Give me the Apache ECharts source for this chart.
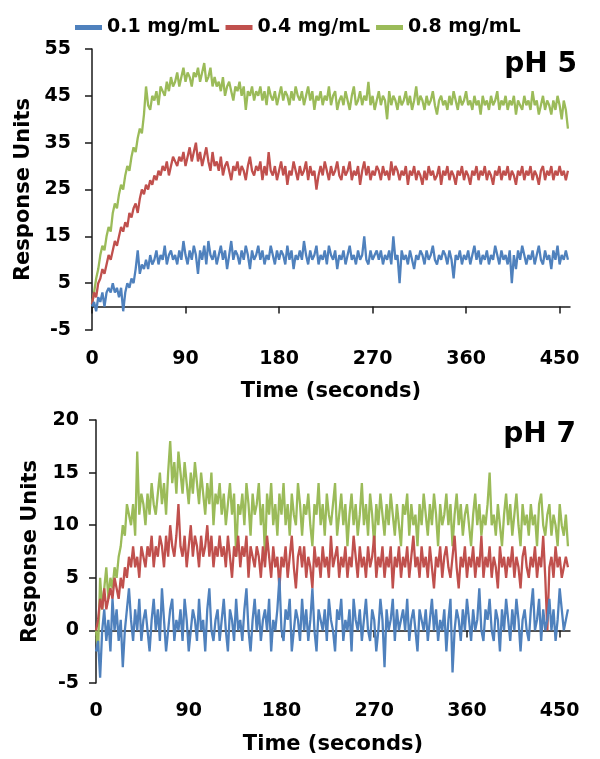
<!DOCTYPE html>
<html><head><meta charset="utf-8">
<script src="https://cdn.jsdelivr.net/npm/echarts@6/dist/echarts.min.js"></script>
<style>html,body{margin:0;padding:0;background:#fff}#c{width:600px;height:759px}</style>
</head><body><div id="c"></div>
<script>
const seriesNames = ['0.1 mg/mL', '0.4 mg/mL', '0.8 mg/mL'];
const seriesColors = ['#4F81BD', '#C0504D', '#9BBB59'];
const stepSeconds = 2;
const xTicks = [0, 90, 180, 270, 360, 450];
const panelLabels = ['pH 5', 'pH 7'];

// pH 5 panel (one value every 2 s, from t = 0)
const ph5_low = [
 0,1,-1,2,1,3,0,3,4,3, 5,3,4,2,4,-1,3,5,4,6, 5,8,12,7,9,8,10,8,11,9,
 10,12,9,11,10,13,9,11,12,10,
 11,9,12,10,14,11,9,12,10,13,
 11,7,12,10,13,9,14,11,10,12,
 9,11,13,10,12,8,11,14,10,12,
 11,9,12,10,13,11,8,12,10,11,
 13,10,12,9,11,10,13,11,9,12,
 10,12,11,9,13,10,12,8,11,10,
 12,10,14,11,9,12,10,11,13,9,
 11,10,12,9,13,11,10,12,8,11,
 10,12,9,11,13,10,11,9,12,10,
 11,15,10,9,12,10,11,12,10,12,
 9,11,10,12,9,15,10,11,5,12,
 10,11,9,12,10,8,11,10,12,11,
 9,12,10,11,13,10,9,11,10,12,
 11,9,12,10,6,11,10,12,9,11,
 10,12,9,11,13,10,12,9,11,10,
 12,9,11,10,13,11,9,12,10,11,
 9,12,5,11,8,12,10,13,11,9,
 11,10,12,9,11,13,10,9,12,10,
 11,8,12,10,13,9,11,10,12,10];
const ph5_mid = [
 0.5,3,2,5,6,8,7,9,11,10, 12,14,13,15,17,16,18,17,20,19, 21,22,20,23,25,24,26,25,27,26,
 28,27,29,28,30,29,31,28,30,32,
 31,30,32,31,33,30,32,34,31,33,
 35,31,33,30,32,34,31,29,33,30,
 31,29,32,28,30,31,29,27,30,29,
 31,28,30,29,27,30,32,29,28,30,
 29,31,27,30,28,33,29,28,30,27,
 29,31,28,30,26,29,28,31,29,27,
 30,28,29,31,27,30,28,29,25,28,
 30,28,31,29,27,30,28,29,31,28,
 27,30,28,29,31,27,29,28,30,26,
 29,31,28,30,27,29,28,30,29,27,
 30,28,29,27,31,28,30,29,27,29,
 28,30,26,29,28,30,27,29,28,26,
 29,27,30,28,29,27,28,30,26,29,
 28,30,27,29,28,26,29,28,30,27,
 29,28,26,29,28,30,27,29,28,30,
 27,29,28,26,29,28,30,27,29,28,
 30,27,29,28,26,29,28,30,27,29,
 28,30,27,29,28,26,29,30,27,29,
 28,30,27,29,28,30,28,29,27,29];
const ph5_high = [
 0.5,3,6,8,11,13,12,15,17,16, 20,22,21,24,26,25,28,30,29,32, 34,33,36,38,37,41,47,43,42,45,
 44,46,43,47,46,45,48,46,49,47,
 48,50,47,49,51,48,50,49,47,50,
 49,51,48,50,52,48,49,51,47,49,
 47,48,46,49,45,47,48,46,44,47,
 46,48,45,47,42,46,45,47,44,46,
 45,47,44,46,43,47,45,44,46,43,
 45,47,44,46,45,43,46,44,47,45,
 44,46,43,45,47,44,46,42,45,44,
 46,43,45,44,47,43,45,46,42,44,
 45,43,46,44,42,45,47,43,44,46,
 43,45,44,48,43,45,42,44,46,43,
 45,44,40,46,43,45,44,42,45,43,
 44,46,43,45,42,44,47,43,45,44,
 42,45,43,44,46,43,41,44,45,43,
 44,42,45,43,46,44,42,45,43,44,
 46,43,44,42,45,43,44,41,45,43,
 44,42,45,43,44,46,42,44,43,45,
 42,44,43,45,41,44,43,42,45,43,
 44,42,46,43,44,41,43,45,42,44,
 43,41,44,42,45,43,40,44,42,38];

// pH 7 panel (one value every 2 s, from t = 0)
const ph7_low = [
 -2,-1,-4.5,0,2,-1,1,-2,3,0, 2,-1,1,-3.5,0,2,4,1,-1,2, 0,3,-1,1,2,0,-2,1,3,0,
 2,-1,4,1,-2,0,2,3,-1,1,
 0,2,-1,3,1,-2,0,2,1,-1,
 3,0,1,-2,2,4,0,-1,1,2,
 -1,1,3,0,-2,2,1,-1,3,0,
 1,-1,2,4,0,-2,1,3,0,2,
 -1,1,2,0,3,-2,1,0,2,5,
 0,-1,2,1,3,-2,0,2,1,-1,
 3,0,2,-1,1,4,0,-2,2,1,
 0,2,-1,3,1,0,-2,2,1,3,
 -1,1,0,2,-2,3,1,0,2,-1,
 1,3,0,-1,2,1,-2,0,3,1,
 -3.5,2,0,1,3,-1,2,0,1,2,
 0,3,-1,1,2,0,-2,2,1,0,
 2,-1,1,3,0,2,-1,1,0,2,
 -2,1,3,-4,0,2,1,-1,2,0,
 3,1,-1,2,0,1,4,0,-1,2,
 1,3,0,-1,2,1,-2,2,0,3,
 1,-1,2,0,3,1,-2,1,2,0,
 -1,2,4,0,1,3,-1,2,0,1,
 3,0,2,-1,1,4,2,0,1,2];
const ph7_mid = [
 0,1,3,2,4,2,3,4,3,5, 4,3,5,4,6,5,7,6,8,6, 7,5,8,7,6,8,7,9,6,8,
 7,9,8,6,9,7,10,8,7,9,
 12,8,7,9,6,8,10,7,9,8,
 6,9,7,8,10,7,9,6,8,7,
 9,7,8,6,9,7,5,8,7,9,
 6,8,7,9,5,8,7,6,8,7,
 5,8,6,9,7,5,8,6,7,4,
 7,6,8,5,7,9,6,4,7,8,
 6,8,5,7,6,4,8,6,7,5,
 8,6,7,5,9,6,7,8,5,7,
 6,8,5,7,6,9,7,5,8,6,
 7,5,8,6,7,9,5,7,6,8,
 5,7,6,8,4,7,6,8,5,7,
 6,8,5,7,9,6,7,5,8,6,
 7,5,8,6,4,7,6,8,5,7,
 8,6,5,7,9,6,4,7,6,8,
 5,7,6,8,5,7,6,9,5,7,
 6,8,5,7,6,4,8,6,7,5,
 7,6,8,5,7,6,4,7,8,6,
 5,7,6,8,5,7,6,9,5,0,
 6,7,5,8,6,7,5,6,7,6];
const ph7_high = [
 0,-2,5,2,4,6,3,5,4,6, 5,7,8,10,9,12,11,10,12,9, 17,11,13,12,10,13,11,14,12,11,
 13,15,12,14,11,15,18,14,16,13,
 17,15,13,16,14,12,15,13,16,14,
 12,15,13,11,14,12,15,10,13,12,
 14,11,13,10,12,14,11,13,7,12,
 11,13,10,14,12,9,13,11,12,14,
 10,12,7,13,11,14,10,12,9,13,
 11,14,10,12,9,13,11,10,14,12,
 9,12,11,13,10,8,12,11,14,10,
 12,9,13,11,10,12,14,9,11,13,
 10,12,8,11,13,10,12,9,11,14,
 10,12,9,13,11,8,12,10,13,11,
 9,12,10,13,11,9,12,10,8,12,
 11,13,9,12,10,11,8,12,10,13,
 11,9,12,10,13,11,8,12,10,11,
 13,10,12,8,11,13,10,12,9,11,
 12,10,8,11,13,10,12,9,11,10,
 12,15,10,11,9,12,10,8,11,13,
 10,12,9,11,13,10,8,12,10,11,
 9,12,10,11,8,12,13,10,9,11,
 12,9,11,10,8,12,10,9,11,8];

const panels = [[ph5_low, ph5_mid, ph5_high], [ph7_low, ph7_mid, ph7_high]];

const FONT = 'DejaVu Sans';
const AX = '#1a1a1a';
const toPairs = arr => arr.map((v, i) => [i * stepSeconds, v]);

const grids = [
  { left: 92, top: 49, width: 478, height: 281 },
  { left: 96, top: 420, width: 474, height: 263 }
];
const yCfg = [
  { min: -5, max: 55, interval: 10, margin: 21, nameGap: 58 },
  { min: -5, max: 20, interval: 5, margin: 17, nameGap: 55 }
];
const xCfg = [
  { margin: 20, nameGap: 51 },
  { margin: 19, nameGap: 51 }
];

const xAxis = [], yAxis = [], series = [], titles = [];
// Legend swatches: empty bar series (no marks) so the legend shows solid bars
seriesNames.forEach((n, k) => {
  series.push({ name: n, type: 'bar', xAxisIndex: 0, yAxisIndex: 0, data: [],
    itemStyle: { color: seriesColors[k] }, animation: false });
});
[0, 1].forEach(g => {
  xAxis.push({
    gridIndex: g, type: 'value', min: 0, max: 460, position: 'bottom',
    axisLine: { show: false, onZero: false }, axisTick: { show: false }, splitLine: { show: false },
    axisLabel: { customValues: xTicks, margin: xCfg[g].margin, color: '#000', fontFamily: FONT, fontWeight: 'bold', fontSize: 19 },
    name: 'Time (seconds)', nameLocation: 'middle', nameGap: xCfg[g].nameGap,
    nameTextStyle: { color: '#000', fontFamily: FONT, fontWeight: 'bold', fontSize: 21 }
  });
  xAxis.push({
    gridIndex: g, type: 'value', min: 0, max: 460, position: 'bottom',
    axisLine: { show: true, onZero: true, lineStyle: { color: AX, width: 1.5 } },
    axisTick: { show: true, customValues: xTicks, length: 7, lineStyle: { color: AX, width: 1.5 } },
    axisLabel: { show: false }, splitLine: { show: false }
  });
  yAxis.push({
    gridIndex: g, type: 'value', min: yCfg[g].min, max: yCfg[g].max, interval: yCfg[g].interval,
    axisLine: { show: true, lineStyle: { color: AX, width: 1.5 } },
    axisTick: { show: true, length: 7, lineStyle: { color: AX, width: 1.5 } },
    splitLine: { show: false },
    axisLabel: { margin: yCfg[g].margin, color: '#000', fontFamily: FONT, fontWeight: 'bold', fontSize: 19 },
    name: 'Response Units', nameLocation: 'middle', nameRotate: 90, nameGap: yCfg[g].nameGap,
    nameTextStyle: { color: '#000', fontFamily: FONT, fontWeight: 'bold', fontSize: 21 }
  });
  panels[g].forEach((arr, k) => {
    series.push({
      name: seriesNames[k], type: 'line', xAxisIndex: g * 2, yAxisIndex: g,
      data: toPairs(arr), showSymbol: false, symbol: 'none', z: 4 - k,
      lineStyle: { color: seriesColors[k], width: 2.3 }, itemStyle: { color: seriesColors[k] },
      animation: false
    });
  });
});
titles.push({ text: panelLabels[0], right: 18, top: 46, textStyle: { fontFamily: FONT, fontWeight: 'bold', fontSize: 28, color: '#000' } });
titles.push({ text: panelLabels[1], right: 19, top: 416, textStyle: { fontFamily: FONT, fontWeight: 'bold', fontSize: 28, color: '#000' } });

const chart = echarts.init(document.getElementById('c'), null, { renderer: 'canvas' });
chart.setOption({
  animation: false,
  backgroundColor: '#fff',
  title: titles,
  legend: {
    data: seriesNames, left: 70, top: 13, icon: 'rect',
    itemWidth: 27, itemHeight: 5, itemGap: 6,
    textStyle: { color: '#000', fontFamily: FONT, fontWeight: 'bold', fontSize: 19 }
  },
  grid: grids,
  xAxis, yAxis, series
});
</script></body></html>
